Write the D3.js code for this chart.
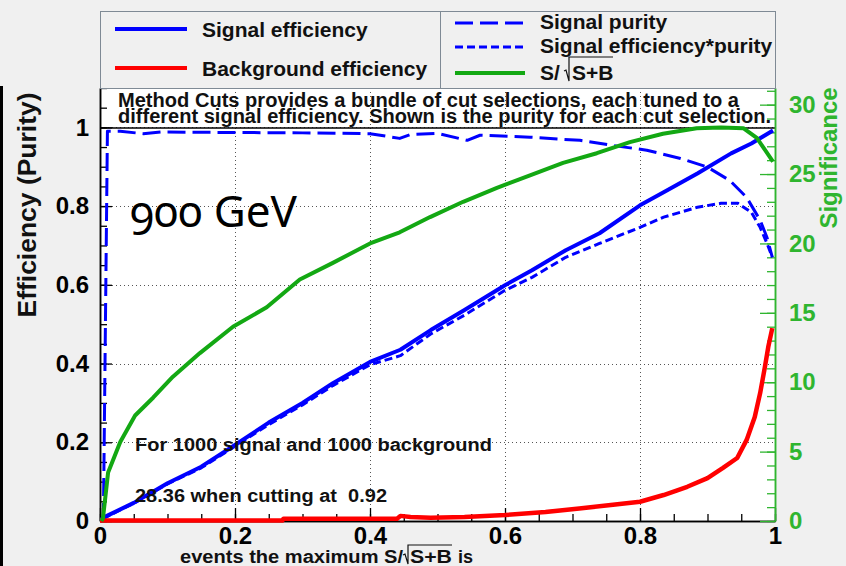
<!DOCTYPE html>
<html>
<head>
<meta charset="utf-8">
<script src="https://cdn.jsdelivr.net/npm/d3@7"></script>
<style>
  html, body { margin: 0; padding: 0; background: #f0f0f0; }
  svg { display: block; }
  text { font-family: "Liberation Sans", Arial, Helvetica, sans-serif; }
</style>
</head>
<body>
<svg id="chart" width="846" height="566"></svg>
<script>
// ---- cut efficiencies vs. cut value (x axis) ----
const sigEffCut = [0, 0.004, 0.05, 0.1, 0.15, 0.2, 0.25, 0.3, 0.345, 0.4, 0.445, 0.49, 0.54, 0.6, 0.64, 0.69, 0.74, 0.8, 0.835, 0.885, 0.935, 0.965, 0.997];
const sigEff    = [0, 0.008, 0.046, 0.096, 0.138, 0.193, 0.25, 0.3, 0.35, 0.404, 0.435, 0.485, 0.536, 0.599, 0.637, 0.688, 0.731, 0.802, 0.835, 0.883, 0.934, 0.959, 0.992];

const bkgEffCut = [0, 0.27, 0.272, 0.44, 0.445, 0.46, 0.49, 0.54, 0.6, 0.66, 0.71, 0.76, 0.8, 0.835, 0.87, 0.9, 0.923, 0.944, 0.958, 0.97, 0.978, 0.985, 0.99, 0.996];
const bkgEff    = [0.001, 0.001, 0.006, 0.006, 0.013, 0.01, 0.008, 0.01, 0.015, 0.023, 0.032, 0.041, 0.049, 0.066, 0.087, 0.109, 0.135, 0.16, 0.206, 0.264, 0.325, 0.391, 0.442, 0.49];

const purityCut = [0.005, 0.011, 0.03, 0.064, 0.09, 0.2, 0.3, 0.4, 0.444, 0.46, 0.5, 0.544, 0.563, 0.637, 0.711, 0.76, 0.81, 0.86, 0.9, 0.933, 0.958, 0.978, 0.988, 0.996];
const purity    = [0.0, 0.99, 0.99, 0.984, 0.988, 0.987, 0.986, 0.984, 0.972, 0.982, 0.985, 0.967, 0.98, 0.975, 0.967, 0.954, 0.942, 0.921, 0.899, 0.865, 0.822, 0.764, 0.721, 0.67];

const effPurCut = [0.004, 0.05, 0.1, 0.15, 0.2, 0.25, 0.3, 0.345, 0.4, 0.445, 0.49, 0.54, 0.6, 0.64, 0.69, 0.74, 0.8, 0.835, 0.885, 0.92, 0.945, 0.965, 0.978, 0.988, 0.996];
const effPur    = [0.006, 0.045, 0.094, 0.135, 0.19, 0.245, 0.295, 0.344, 0.397, 0.42, 0.475, 0.523, 0.586, 0.619, 0.67, 0.705, 0.746, 0.772, 0.797, 0.807, 0.807, 0.784, 0.746, 0.706, 0.67];

const signifCut = [0.002, 0.0044, 0.012, 0.03, 0.052, 0.079, 0.108, 0.148, 0.197, 0.247, 0.296, 0.345, 0.4, 0.444, 0.489, 0.538, 0.588, 0.637, 0.686, 0.736, 0.785, 0.834, 0.884, 0.92, 0.953, 0.973, 0.997];
const signif    = [0, 0.2, 3.5, 5.7, 7.6, 8.9, 10.4, 12.1, 14.0, 15.4, 17.4, 18.6, 20.0, 20.8, 21.9, 23.0, 24.0, 24.9, 25.8, 26.5, 27.3, 27.9, 28.3, 28.36, 28.3, 27.6, 25.9];

// ---- axis ticks ----
const xTicks = [0, 0.2, 0.4, 0.6, 0.8, 1];
const xTickLabels = ["0", "0.2", "0.4", "0.6", "0.8", "1"];
const yTicks = [0, 0.2, 0.4, 0.6, 0.8, 1];
const yTickLabels = ["0", "0.2", "0.4", "0.6", "0.8", "1"];
const sTicks = [0, 5, 10, 15, 20, 25, 30];
const sTickLabels = ["0", "5", "10", "15", "20", "25", "30"];

// ---- texts ----
const legendLeft = ["Signal efficiency", "Background efficiency"];
const legendRight = ["Signal purity", "Signal efficiency*purity"];
const infoLines = ["Method Cuts provides a bundle of cut selections, each tuned to a",
                   "different signal efficiency. Shown is the purity for each cut selection."];
const noteLines = ["For 1000 signal and 1000 background", "28.36 when cutting at \u00a00.92"];
const energyLabel = "900 GeV";

const BLUE = "#0000ff", RED = "#ff0000", GREEN = "#13a813", AXGREEN = "#2fb52f";

const svg = d3.select("#chart");
const W = 846, H = 566;
const fx0 = 100, fx1 = 775, fy0 = 88, fy1 = 521;

svg.append("rect").attr("width", W).attr("height", H).attr("fill", "#f0f0f0");
svg.append("rect").attr("x", 0).attr("y", 86).attr("width", 3).attr("height", H - 86).attr("fill", "#000");

const x = d3.scaleLinear().domain([0, 1]).range([fx0, fx1]);
const y = d3.scaleLinear().domain([0, 1.1]).range([fy1, fy0]);
const ys = d3.scaleLinear().domain([0, 31.2]).range([fy1, fy0]);

// frame
svg.append("rect").attr("x", fx0).attr("y", fy0).attr("width", fx1 - fx0).attr("height", fy1 - fy0).attr("fill", "#fff");

// grid
const grid = svg.append("g").attr("stroke", "#555").attr("stroke-width", 1).attr("stroke-dasharray", "1,3");
grid.selectAll("line.gx").data(xTicks.slice(1, -1)).join("line")
  .attr("x1", d => x(d) + 0.5).attr("x2", d => x(d) + 0.5).attr("y1", fy0).attr("y2", fy1);
grid.selectAll("line.gy").data(yTicks.slice(1)).join("line")
  .attr("y1", d => Math.round(y(d)) + 0.5).attr("y2", d => Math.round(y(d)) + 0.5).attr("x1", fx0).attr("x2", fx1);

// info box bottom rule
svg.append("line").attr("x1", fx0).attr("x2", fx1).attr("y1", 128).attr("y2", 128).attr("stroke", "#000").attr("stroke-width", 1.5);

// axes
function styleAxis(g, color, size) {
  g.select(".domain").attr("stroke", color).attr("stroke-width", 1.5);
  g.selectAll(".tick line").attr("stroke", color).attr("stroke-width", 1.3);
  g.selectAll(".tick text").attr("fill", color).attr("font-size", size).attr("font-weight", "bold")
    .attr("font-family", "'Liberation Sans', Arial, sans-serif");
}
const minorY = d3.range(0, 1.1001, 0.05);
const minorX = d3.range(0, 1.0001, 0.05);
const minorS = d3.range(0, 31.001, 1);

const gyMinor = svg.append("g").attr("transform", `translate(${fx0},0)`)
  .call(d3.axisLeft(y).tickValues(minorY).tickSize(-7).tickSizeOuter(0).tickFormat(""));
styleAxis(gyMinor, "#000", 0);
const gy = svg.append("g").attr("transform", `translate(${fx0},0)`)
  .call(d3.axisLeft(y).tickValues(yTicks).tickSize(-12).tickSizeOuter(0).tickPadding(11)
    .tickFormat((d, i) => yTickLabels[i]));
styleAxis(gy, "#000", 24);

const gxMinor = svg.append("g").attr("transform", `translate(0,${fy1})`)
  .call(d3.axisBottom(x).tickValues(minorX).tickSize(-7).tickSizeOuter(0).tickFormat(""));
styleAxis(gxMinor, "#000", 0);
const gx = svg.append("g").attr("transform", `translate(0,${fy1})`)
  .call(d3.axisBottom(x).tickValues(xTicks).tickSize(-13).tickSizeOuter(0).tickPadding(6)
    .tickFormat((d, i) => xTickLabels[i]));
styleAxis(gx, "#000", 24);

const gsMinor = svg.append("g").attr("transform", `translate(${fx1},0)`)
  .call(d3.axisRight(ys).tickValues(minorS).tickSize(-8).tickSizeOuter(0).tickFormat(""));
styleAxis(gsMinor, AXGREEN, 0);
const gs = svg.append("g").attr("transform", `translate(${fx1},0)`)
  .call(d3.axisRight(ys).tickValues(sTicks).tickSize(-15).tickSizeOuter(0).tickPadding(14)
    .tickFormat((d, i) => sTickLabels[i]));
styleAxis(gs, AXGREEN, 24);

// curves
svg.append("clipPath").attr("id", "frameClip").append("rect")
  .attr("x", fx0).attr("y", fy0).attr("width", fx1 - fx0).attr("height", fy1 - fy0 + 3);
const curves = svg.append("g").attr("clip-path", "url(#frameClip)").attr("fill", "none")
  .attr("stroke-linejoin", "round");

const lineE = d3.line().x(d => x(d[0])).y(d => y(d[1]));
const lineS = d3.line().x(d => x(d[0])).y(d => ys(d[1]));

curves.append("path").datum(d3.zip(purityCut, purity)).attr("d", lineE)
  .attr("stroke", BLUE).attr("stroke-width", 3).attr("stroke-dasharray", "18,7");
curves.append("path").datum(d3.zip(effPurCut, effPur)).attr("d", lineE)
  .attr("stroke", BLUE).attr("stroke-width", 3).attr("stroke-dasharray", "8,4");
curves.append("path").datum(d3.zip(sigEffCut, sigEff)).attr("d", lineE)
  .attr("stroke", BLUE).attr("stroke-width", 4);
curves.append("path").datum(d3.zip(bkgEffCut, bkgEff)).attr("d", lineE)
  .attr("stroke", RED).attr("stroke-width", 4.5);
curves.append("path").datum(d3.zip(signifCut, signif)).attr("d", lineS)
  .attr("stroke", GREEN).attr("stroke-width", 4);

// info text at the top of the frame
const info = svg.append("g").attr("font-size", 20).attr("font-weight", "bold").attr("fill", "#111");
info.append("text").attr("x", 118).attr("y", 107).attr("textLength", 621).attr("lengthAdjust", "spacingAndGlyphs").text(infoLines[0]);
info.append("text").attr("x", 118).attr("y", 123).attr("textLength", 653).attr("lengthAdjust", "spacingAndGlyphs").text(infoLines[1]);

// notes inside the frame
const notes = svg.append("g").attr("font-size", 18).attr("font-weight", "bold").attr("fill", "#111");
notes.append("text").attr("x", 135).attr("y", 451).attr("textLength", 357).attr("lengthAdjust", "spacingAndGlyphs").text(noteLines[0]);
notes.append("text").attr("x", 135).attr("y", 502).attr("textLength", 252).attr("lengthAdjust", "spacingAndGlyphs").text(noteLines[1]);

// continuation below the axis
const tail = svg.append("g").attr("font-size", 18).attr("font-weight", "bold").attr("fill", "#111");
tail.append("text").attr("x", 180).attr("y", 563).attr("textLength", 223).attr("lengthAdjust", "spacingAndGlyphs").text("events the maximum S/");
tail.append("path").attr("d", "M403,555 L405,554 L408,564 L408,545 L452,545").attr("fill", "none").attr("stroke", "#111").attr("stroke-width", 1.2);
tail.append("text").attr("x", 410).attr("y", 563).attr("textLength", 42).attr("lengthAdjust", "spacingAndGlyphs").text("S+B");
tail.append("text").attr("x", 458).attr("y", 563).text("is");

// energy label
svg.append("text").attr("x", 130).attr("y", 227).attr("font-size", 44)
  .style("font-family", "'Noto Sans', 'Open Sans', sans-serif")
  .style("font-feature-settings", "'onum' 1").style("font-variant-numeric", "oldstyle-nums")
  .attr("fill", "#000").text(energyLabel);

// axis titles
svg.append("text").attr("transform", "translate(36,205) rotate(-90)").attr("text-anchor", "middle")
  .attr("font-size", 26).attr("font-weight", "bold").attr("fill", "#111")
  .attr("textLength", 225).attr("lengthAdjust", "spacingAndGlyphs").text("Efficiency (Purity)");
svg.append("text").attr("transform", "translate(837,158) rotate(-90)").attr("text-anchor", "middle")
  .attr("font-size", 24).attr("font-weight", "bold").attr("fill", AXGREEN)
  .attr("textLength", 141).attr("lengthAdjust", "spacingAndGlyphs").text("Significance");

// legend
const leg = svg.append("g");
leg.append("rect").attr("x", 100.5).attr("y", 11.5).attr("width", 675).attr("height", 77)
  .attr("fill", "#f0f0f0").attr("stroke", "#7f8a95").attr("stroke-width", 1);
leg.append("line").attr("x1", 440.5).attr("x2", 440.5).attr("y1", 11.5).attr("y2", 88.5).attr("stroke", "#7f8a95");
const legT = leg.append("g").attr("font-size", 21).attr("font-weight", "bold").attr("fill", "#111");
const leftRows = [{c: BLUE, y: 29, ty: 37}, {c: RED, y: 68, ty: 76}];
leftRows.forEach((r, i) => {
  leg.append("line").attr("x1", 115).attr("x2", 187).attr("y1", r.y).attr("y2", r.y).attr("stroke", r.c).attr("stroke-width", 4);
  legT.append("text").attr("x", 202).attr("y", r.ty).text(legendLeft[i]);
});
const rightRows = [{dash: "18,7", y: 23, ty: 29}, {dash: "8,4", y: 47, ty: 53}];
rightRows.forEach((r, i) => {
  leg.append("line").attr("x1", 455).attr("x2", 525).attr("y1", r.y).attr("y2", r.y).attr("stroke", BLUE)
    .attr("stroke-width", 3).attr("stroke-dasharray", r.dash);
  legT.append("text").attr("x", 540).attr("y", r.ty).text(legendRight[i]);
});
leg.append("line").attr("x1", 455).attr("x2", 525).attr("y1", 73).attr("y2", 73).attr("stroke", GREEN).attr("stroke-width", 4);
legT.append("text").attr("x", 540).attr("y", 80).text("S/");
leg.append("path").attr("d", "M564,71 L566,70 L569,81 L569,57 L613,57").attr("fill", "none").attr("stroke", "#111").attr("stroke-width", 1.2);
legT.append("text").attr("x", 572).attr("y", 80).text("S+B");
</script>
</body>
</html>
